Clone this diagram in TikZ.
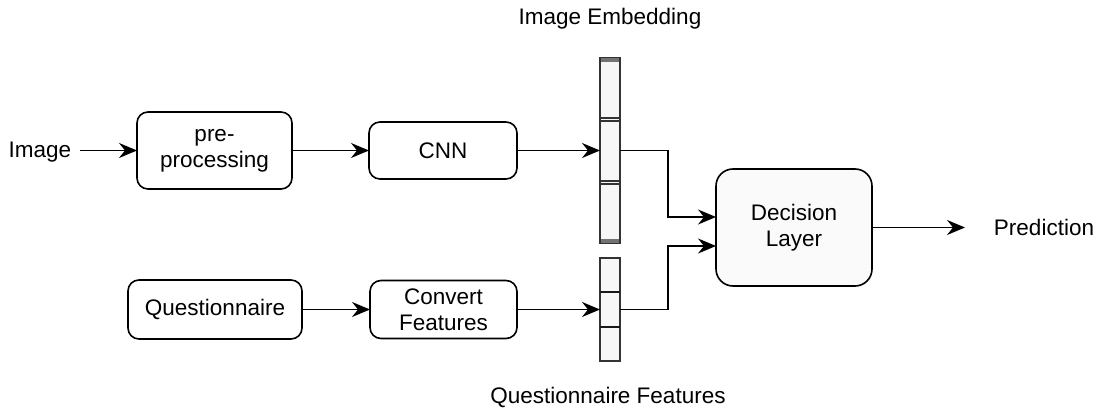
\documentclass[tikz,border=0pt]{standalone}
\usepackage{fontspec}
\setmainfont{Liberation Sans}
\usetikzlibrary{arrows.meta,calc}
\begin{document}
\begin{tikzpicture}[x=1pt,y=-1pt,
  font=\fontsize{22.5}{26}\selectfont,
  proc/.style={draw=black,line width=1.6pt,rounded corners=11pt,fill=white,
    inner sep=0pt,outer sep=0pt,align=center},
  decision/.style={proc,rounded corners=17pt,fill=black!2},
  vecbar/.style={draw=black!80,line width=1.6pt,fill=black!3,inner sep=0pt,outer sep=0pt,
    minimum width=20pt},
  label/.style={inner sep=0pt,outer sep=0pt},
  flow/.style={draw=black,line width=1.8pt,-{Stealth[length=18pt,width=15pt,inset=6pt]}}]
\useasboundingbox (0,0) rectangle (1103,414);

% input and boxes
\node[label] (img) at (40,152) {Image};
\node[proc,minimum width=155pt,minimum height=77pt] (pre) at (214.5,150.5) {pre-\\processing};
\node[proc,minimum width=148pt,minimum height=57pt] (cnn) at (443,150.5) {CNN};
\node[proc,minimum width=174pt,minimum height=59pt] (quest) at (215,309.5) {Questionnaire};
\node[proc,minimum width=147pt,minimum height=58pt] (conv) at (443.5,309.5) {Convert\\Features};
\node[decision,minimum width=156pt,minimum height=117pt] (dec) at (794,227.5) {Decision\\Layer};
\node[label] (pred) at (1044,227) {Prediction};

% embedding vectors
\node[vecbar,minimum height=186pt] (emb) at (610,150.5) {};
\fill[black!55] (601,58) rectangle (619,62);
\fill[black!55] (601,239) rectangle (619,243);
\draw[black!80,line width=1.2pt] (600,118) -- (620,118) (600,121) -- (620,121);
\draw[black!80,line width=1.2pt] (600,181) -- (620,181) (600,184) -- (620,184);
\node[label] (embtxt) at (610,19) {Image Embedding};

\node[vecbar,minimum height=103pt] (qf) at (610,309.5) {};
\draw[black!90,line width=2.4pt] (600,292) -- (620,292) (600,327) -- (620,327);
\node[label] (qftxt) at (608,397) {Questionnaire Features};

% connectors
\coordinate (imgout) at (80,150.5);
\draw[flow] (imgout) -- (pre.west);
\draw[flow] (pre.east) -- (cnn.west);
\draw[flow] (cnn.east) -- (emb.west);
\draw[flow] (quest.east) -- (conv.west);
\draw[flow] (conv.east) -- (qf.west);
\draw[flow] (emb.east) -- (668,150.5) |- ($(dec.west)+(0,-10.5)$);
\draw[flow] (qf.east) -- (668,309.5) |- ($(dec.west)+(0,18.5)$);
\coordinate (predin) at (965,227.5);
\draw[flow] (dec.east) -- (predin);
\end{tikzpicture}
\end{document}
